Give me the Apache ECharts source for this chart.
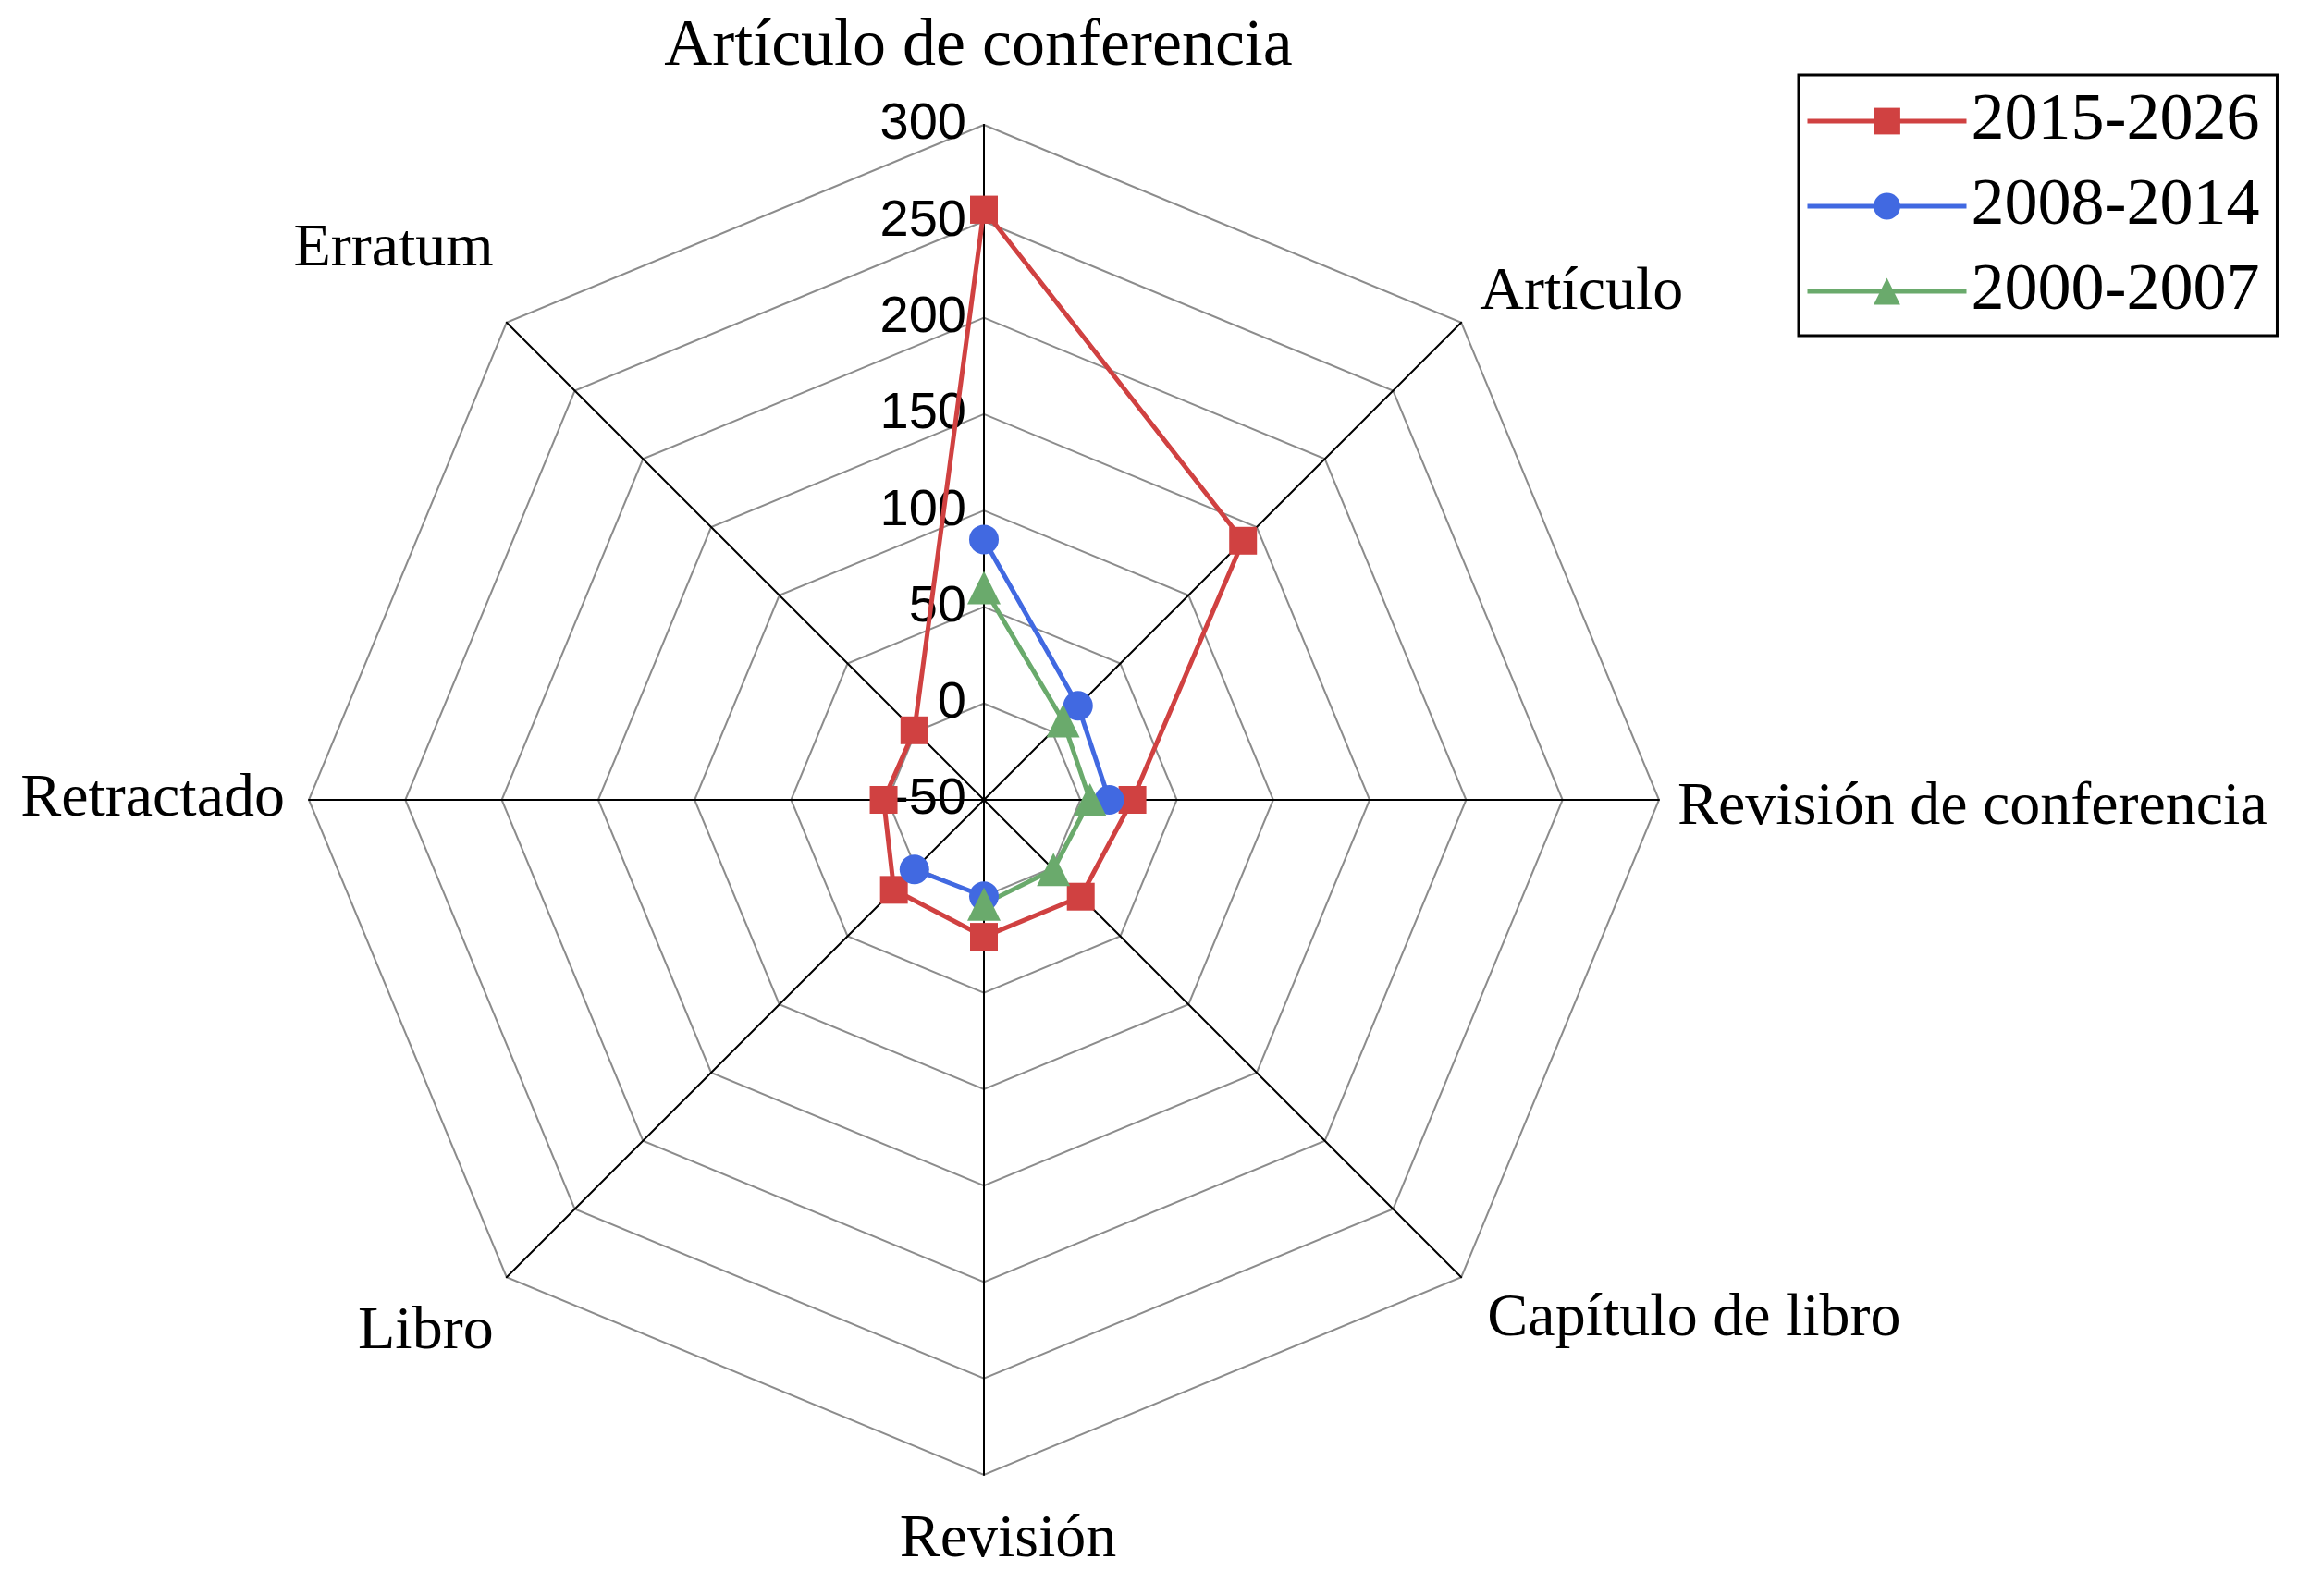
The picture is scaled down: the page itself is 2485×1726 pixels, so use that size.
<!DOCTYPE html>
<html>
<head>
<meta charset="utf-8">
<script src="https://cdn.jsdelivr.net/npm/echarts@6/dist/echarts.min.js"></script>
<style>
  html, body { margin: 0; padding: 0; background: #fff; }
  #container { width: 2485px; height: 1726px; }
</style>
</head>
<body>
<div id="container"></div>
<script type="text/javascript">
// categories go clockwise from the top
var categories = ['Artículo de conferencia', 'Artículo', 'Revisión de conferencia', 'Capítulo de libro',
                  'Revisión', 'Libro', 'Retractado', 'Erratum'];
var seriesNames = ['2015-2026', '2008-2014', '2000-2007'];
var v2015 = [256, 140, 27, 21, 21, 16, 2, 1];
var v2008 = [85, 19, 15, null, 0, 1, null, null];
var v2000 = [60, 8, 5, 1, 4, null, null, null];
var tickMin = -50, tickMax = 300, tickStep = 50;

var serif = 'Liberation Serif';
var dom = document.getElementById('container');
var myChart = echarts.init(dom);

// polar points [radius, angle index]; a gap where the value is missing
function toPolar(vals) {
    var pts = [];
    for (var i = 0; i < vals.length; i++) {
        pts.push([vals[i] == null ? '-' : vals[i], i]);
    }
    if (vals[vals.length - 1] != null && vals[0] != null) {
        pts.push([vals[0], vals.length]);   // close the ring
    }
    return pts;
}

// radar lays indicators counter-clockwise, so feed it reversed
var indicators = [{ name: categories[0], min: tickMin, max: tickMax }];
for (var i = categories.length - 1; i > 0; i--) {
    indicators.push({ name: categories[i], min: tickMin, max: tickMax });
}

var center = [1064, 865];
var radius = 730;

// small nudges per axis name, keyed by category index
function nameStyle(size, pad) {
    return { fontFamily: serif, fontSize: size, color: '#000', padding: pad };
}
var nameRich = {
    n0: nameStyle(72, [0, 12, 28, 0]),
    n1: nameStyle(66, [0, 0, 36, 6]),
    n2: nameStyle(66, [18, 0, 0, 0]),
    n3: nameStyle(66, [62, 0, 0, 14]),
    n4: nameStyle(66, [18, 0, 0, 52]),
    n5: nameStyle(66, [90, 0, 0, 0]),
    n6: nameStyle(66, [0, 6, 0, 0]),
    n7: nameStyle(66, [0, 0, 130, 0])
};

function makeLine(name, vals, color, symbol, size) {
    return {
        name: name,
        type: 'line',
        coordinateSystem: 'polar',
        data: toPolar(vals),
        symbol: symbol,
        symbolSize: size,
        showAllSymbol: true,
        connectNulls: false,
        itemStyle: { color: color },
        lineStyle: { color: color, width: 5 },
        z: 5
    };
}

var option = {
    backgroundColor: '#fff',
    animation: false,
    legend: {
        orient: 'vertical',
        left: 1945,
        top: 81,
        padding: [14, 19, 12, 7],
        itemGap: 20,
        itemWidth: 172,
        itemHeight: 36,
        borderColor: '#000',
        borderWidth: 3,
        data: seriesNames,
        lineStyle: { width: 5 },
        textStyle: { fontFamily: serif, fontSize: 72, color: '#000' }
    },
    radar: {
        center: center,
        radius: radius,
        startAngle: 90,
        splitNumber: 7,
        shape: 'polygon',
        indicator: indicators,
        z: 0,
        axisName: {
            color: '#000',
            fontFamily: serif,
            fontSize: 66,
            formatter: function (value) {
                var k = categories.indexOf(value);
                return '{n' + k + '|' + value + '}';
            },
            rich: nameRich
        },
        nameGap: 20,
        axisLine: { lineStyle: { color: '#000', width: 2 } },
        splitLine: { lineStyle: { color: '#8c8c8c', width: 2 } },
        splitArea: { show: false },
        axisTick: { show: false },
        axisLabel: { show: false }
    },
    polar: {
        center: center,
        radius: radius
    },
    angleAxis: {
        type: 'value',
        min: 0,
        max: categories.length,
        startAngle: 90,
        clockwise: true,
        axisLine: { show: false },
        axisTick: { show: false },
        axisLabel: { show: false },
        splitLine: { show: false }
    },
    radiusAxis: {
        type: 'value',
        min: tickMin,
        max: tickMax,
        interval: tickStep,
        axisLine: { show: true, lineStyle: { color: '#000', width: 2 } },
        axisTick: { show: false },
        splitLine: { show: false },
        axisLabel: {
            margin: 19,
            color: '#000',
            fontFamily: 'Liberation Sans',
            fontSize: 56
        },
        z: 3
    },
    series: [
        makeLine(seriesNames[0], v2015, '#d04141', 'rect', 30),
        makeLine(seriesNames[1], v2008, '#4169e1', 'circle', 32),
        makeLine(seriesNames[2], v2000, '#6aaa6c', 'triangle', 36)
    ]
};
myChart.setOption(option);
</script>
</body>
</html>
